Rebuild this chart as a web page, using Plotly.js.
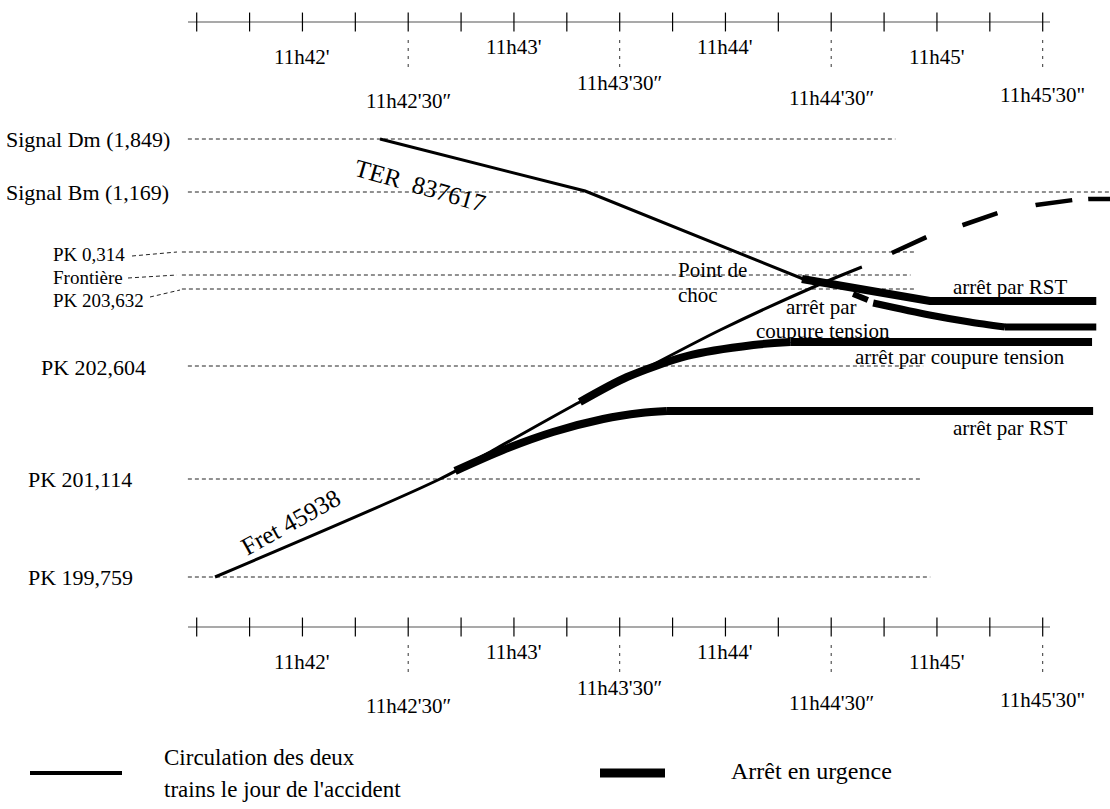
<!DOCTYPE html>
<html><head><meta charset="utf-8">
<script src="https://cdn.plot.ly/plotly-3.0.1.min.js"></script>
<style>html,body{margin:0;padding:0;background:#fff;}#chart{width:1110px;height:809px;}</style>
</head><body><div id="chart"></div>
<script>
// ---- DATA ----
// time: seconds after 11h40'00" ; position: diagram units along the line (0 = PK 199,759, upward)
const tickTimes = [90,105,120,135,150,165,180,195,210,225,240,255,270,285,300,315,330];
const minuteTimes = [120,180,240,300];
const minuteLabels = ["11h42'","11h43'","11h44'","11h45'"];
const halfTimes = [150,210,270,330];
const halfLabels = ["11h42'30\u2033","11h43'30\u2033","11h44'30\u2033","11h45'30\""];

const levelNames = ["Signal Dm (1,849)","Signal Bm (1,169)","PK 0,314","Frontière","PK 203,632","PK 202,604","PK 201,114","PK 199,759"];
const levelPos  = [438, 385, 325, 302, 288, 211, 98, 0];
const levelFrom = [87.5, 87.5, 85.8, 85.8, 85.8, 87.5, 87.5, 87.5];
const levelTo   = [288.2, 351.0, 293.9, 292.5, 293.9, 296.1, 295.8, 298.1];

// TER 837617
const terT   = [142.0, 200.2, 266.3];
const terPos = [438, 386, 292];
const terStopRstT   = [261.7, 298.0, 345.2];
const terStopRstPos = [298, 276, 276];
const terRearDashT   = [276.2, 280.4];
const terRearDashPos = [283, 277];
const terRearStopT   = [281.9, 297.9, 309.3, 319.3];
const terRearStopPos = [274, 262, 255, 250];
const terRearHoldT   = [319.3, 345.2];
const terRearHoldPos = [250, 250];

// Fret 45938
const fretT   = [95.2, 159.0, 175.2, 198.7, 213.8, 238.5, 266.3, 278.7];
const fretPos = [0, 98, 129, 175, 202, 247, 292, 310];
const fretAfterT   = [287.2, 297.1, 307.4, 317.3, 328.1, 338.6, 343.2, 351.0];
const fretAfterPos = [324, 340, 352, 364, 372, 377, 378, 378];
const fretStopRstT   = [163.3, 176.9, 191.1, 205.3, 216.0, 223.4];
const fretStopRstPos = [106, 127, 145, 158, 164, 166];
const fretHoldRstT   = [223.4, 344.3];
const fretHoldRstPos = [166, 166];
const fretStopCutT   = [198.7, 212.1, 229.1, 247.9, 258.4];
const fretStopCutPos = [175, 200, 221, 232, 235];
const fretHoldCutT   = [258.4, 344.0];
const fretHoldCutPos = [235, 235];

// ---- LAYOUT HELPERS ----
const W = 1110, H = 809, PX0 = 196.7, T0 = 90, SX = 3.525, PY0 = 577;
const tx = px => T0 + (px - PX0) / SX;
const uy = py => PY0 - py;
const FONT = "Liberation Serif, Times New Roman, serif";
const axisRows = [22, 627];
const minuteDy = [35, 25, 25, 35];
const halfDy = [79, 61, 76, 73];

const traces = [];
function ln(x, y, width, dash, color, shape) {
  traces.push({type:'scatter', mode:'lines', x:x, y:y, hoverinfo:'skip', showlegend:false,
    line:{color:color || '#000', width:width, dash:dash || 'solid', shape:shape || 'linear', smoothing:0.8}});
}

// reference levels
(function(){
  const x = [], y = [];
  levelPos.forEach((p,i) => { x.push(levelFrom[i], levelTo[i], null); y.push(p, p, null); });
  ln(x, y, 1, '4px,3px', '#222');
})();

// time axes (top and bottom)
axisRows.forEach(row => {
  const a = uy(row);
  ln([tx(188), tx(1050)], [a, a], 1.2, 'solid', '#555');
  traces.push({type:'scatter', mode:'markers', x:tickTimes, y:tickTimes.map(() => a),
    hoverinfo:'skip', showlegend:false,
    marker:{symbol:'line-ns', size:13.5, color:'#000', line:{width:1.2, color:'#000'}}});
  const x = [], y = [];
  halfTimes.forEach(t => { x.push(t, t, null); y.push(uy(row + 18), uy(row + 48), null); });
  ln(x, y, 1, '3px,5px', '#333');
});

// trains
ln(terT, terPos, 3);
ln(fretT, fretPos, 3, 'solid', '#000', 'spline');
ln(fretAfterT, fretAfterPos, 4.5, '38px,38px,37px,39px,37px,16px,60px,60px');
ln(fretStopRstT, fretStopRstPos, 8, 'solid', '#000', 'spline');
ln(fretHoldRstT, fretHoldRstPos, 8);
ln(fretStopCutT, fretStopCutPos, 8, 'solid', '#000', 'spline');
ln(fretHoldCutT, fretHoldCutPos, 8);
ln(terStopRstT, terStopRstPos, 8);
ln(terRearDashT, terRearDashPos, 6);
ln(terRearStopT, terRearStopPos, 7, 'solid', '#000', 'spline');
ln(terRearHoldT, terRearHoldPos, 7);

// ---- ANNOTATIONS ----
const ann = [];
function txt(px, py, text, size, opts) {
  ann.push(Object.assign({x:tx(px), y:uy(py), xref:'x', yref:'y', text:text, showarrow:false,
    xanchor:'center', yanchor:'middle', borderpad:0, font:{family:FONT, size:size, color:'#000'}}, opts || {}));
}
axisRows.forEach(row => {
  minuteTimes.forEach((t,i) => ann.push({x:t, y:uy(row + minuteDy[i]), xref:'x', yref:'y',
    text:minuteLabels[i], showarrow:false, xanchor:'center', yanchor:'middle',
    font:{family:FONT, size:21, color:'#000'}}));
  halfTimes.forEach((t,i) => ann.push({x:t, y:uy(row + halfDy[i]), xref:'x', yref:'y',
    text:halfLabels[i], showarrow:false, xanchor:'center', yanchor:'middle',
    font:{family:FONT, size:21, color:'#000'}}));
});
const labelX = [5, 5, 52, 52, 52, 40, 27, 27];
const labelY = [139, 192, 254, 277, 300, 367, 479, 577];
const labelSize = [22, 22, 19, 19, 19, 22, 22, 22];
levelNames.forEach((n,i) => txt(labelX[i], labelY[i], n, labelSize[i], {xanchor:'left'}));

txt(420, 185, "TER  837617", 25, {textangle:16});
txt(290, 522, "Fret 45938", 25, {textangle:-29});
txt(677, 270, "Point de", 21, {xanchor:'left'});
txt(677, 295, "choc", 21, {xanchor:'left'});
txt(821, 307, "arrêt par", 21);
txt(823, 331, "coupure tension", 21);
txt(1010, 287, "arrêt par RST", 21);
txt(960, 357, "arrêt par coupure tension", 21);
txt(1010, 428, "arrêt par RST", 21);

// legend
txt(163, 757, "Circulation des deux", 23, {xanchor:'left'});
txt(163, 789, "trains le jour de l'accident", 23, {xanchor:'left'});
txt(730, 771, "Arrêt en urgence", 24, {xanchor:'left'});
const shapes = [
  {type:'line', xref:'paper', yref:'paper', x0:30/W, x1:122/W, y0:1-773/H, y1:1-773/H, line:{color:'#000', width:4}},
  {type:'line', xref:'paper', yref:'paper', x0:600/W, x1:665/W, y0:1-773/H, y1:1-773/H, line:{color:'#000', width:9}},
  {type:'line', xref:'paper', yref:'paper', x0:132/W, x1:177/W, y0:1-256/H, y1:1-252/H, line:{color:'#222', width:1, dash:'4px,3px'}},
  {type:'line', xref:'paper', yref:'paper', x0:128/W, x1:177/W, y0:1-278/H, y1:1-275/H, line:{color:'#222', width:1, dash:'4px,3px'}},
  {type:'line', xref:'paper', yref:'paper', x0:150/W, x1:180/W, y0:1-297/H, y1:1-290/H, line:{color:'#222', width:1, dash:'4px,3px'}}
];

const layout = {
  width:W, height:H, margin:{l:0, r:0, t:0, b:0, pad:0},
  paper_bgcolor:'#fff', plot_bgcolor:'#fff', showlegend:false,
  xaxis:{range:[tx(0), tx(W)], visible:false, fixedrange:true},
  yaxis:{range:[uy(H), uy(0)], visible:false, fixedrange:true},
  annotations:ann, shapes:shapes
};
Plotly.newPlot('chart', traces, layout, {staticPlot:true, displayModeBar:false});
</script></body></html>
